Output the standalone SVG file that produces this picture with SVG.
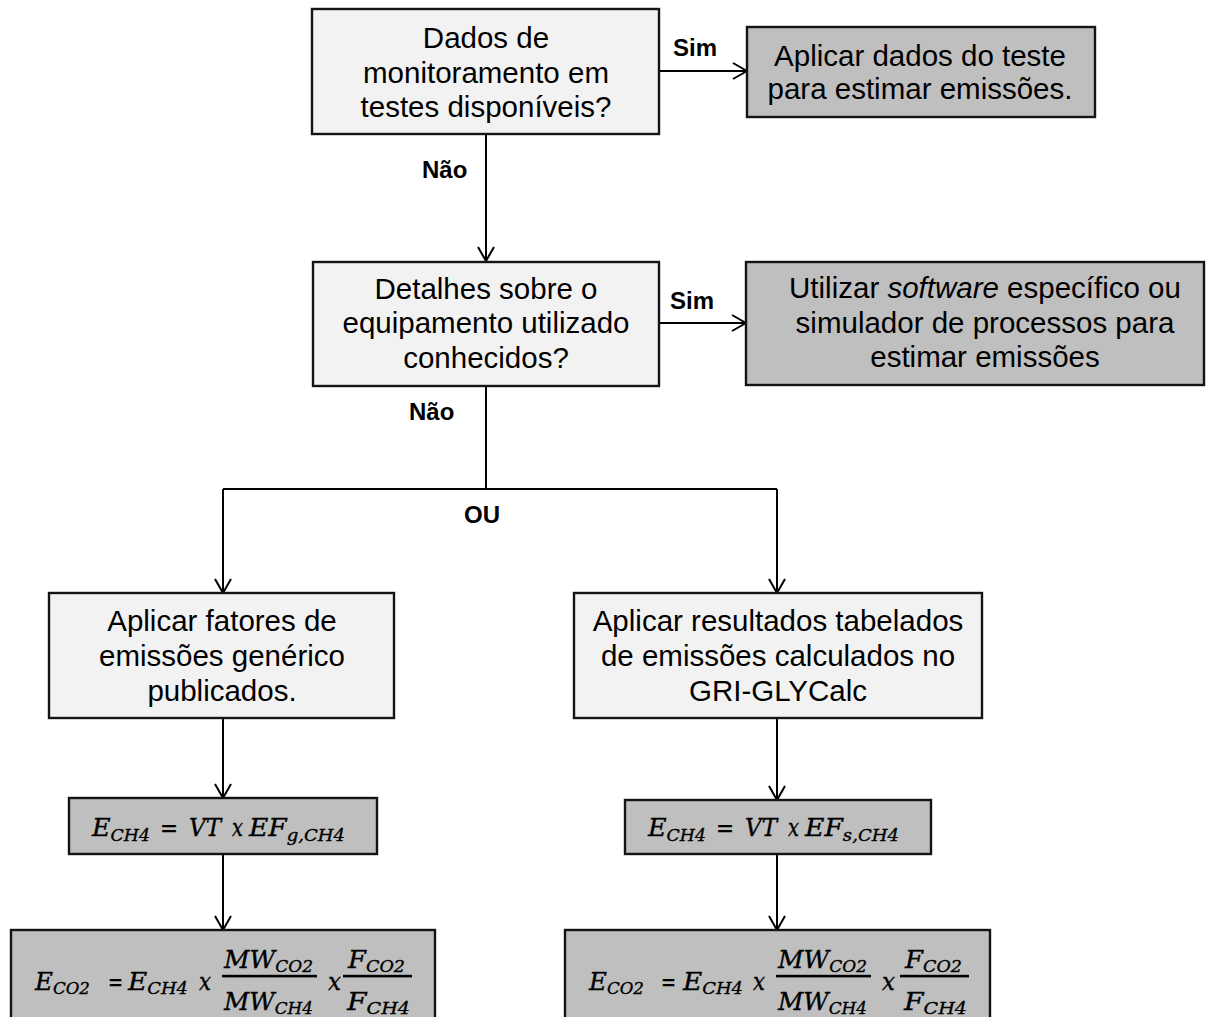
<svg xmlns="http://www.w3.org/2000/svg" width="1206" height="1017" viewBox="0 0 1206 1017">
  <defs>
    <style>
      .box { stroke: #141414; stroke-width: 2.4; }
      .q { fill: #f2f2f2; }
      .a { fill: #bfbfbf; }
      .t { font-family: "Liberation Sans", Arial, sans-serif; font-size: 29.5px; fill: #000; text-anchor: middle; }
      .lbl { font-family: "Liberation Sans", Arial, sans-serif; font-size: 24px; font-weight: bold; fill: #000; }
      .eq { font-family: "DejaVu Serif", "Liberation Serif", serif; font-style: italic; font-size: 25px; fill: #000; stroke: #000; stroke-width: 0.35; }
      .sub { font-size: 17px; }
      .up { font-style: normal; }
      .wire { fill: none; stroke: #000; stroke-width: 2; }
      .bar { fill: #000; stroke: none; }
    </style>
    <marker id="arrow" viewBox="0 0 16 18" refX="15" refY="9" markerWidth="16" markerHeight="18" markerUnits="userSpaceOnUse" orient="auto">
      <path d="M1,1 L15,9 L1,17" fill="none" stroke="#000" stroke-width="2"/>
    </marker>
  </defs>

  <rect width="1206" height="1017" fill="#fff"/>

  <!-- connectors -->
  <g id="connectors">
    <line class="wire" x1="659" y1="71" x2="747" y2="71" marker-end="url(#arrow)"/>
    <line class="wire" x1="486" y1="134" x2="486" y2="261" marker-end="url(#arrow)"/>
    <line class="wire" x1="659" y1="323" x2="746" y2="323" marker-end="url(#arrow)"/>
    <polyline class="wire" points="486,386 486,489"/>
    <polyline class="wire" points="223,489 777,489"/>
    <line class="wire" x1="223" y1="489" x2="223" y2="593" marker-end="url(#arrow)"/>
    <line class="wire" x1="777" y1="489" x2="777" y2="593" marker-end="url(#arrow)"/>
    <line class="wire" x1="223" y1="718" x2="223" y2="798" marker-end="url(#arrow)"/>
    <line class="wire" x1="777" y1="718" x2="777" y2="800" marker-end="url(#arrow)"/>
    <line class="wire" x1="223" y1="854" x2="223" y2="930" marker-end="url(#arrow)"/>
    <line class="wire" x1="777" y1="854" x2="777" y2="930" marker-end="url(#arrow)"/>
    <text class="lbl" x="673" y="56">Sim</text>
    <text class="lbl" x="422" y="178">Não</text>
    <text class="lbl" x="670" y="309">Sim</text>
    <text class="lbl" x="409" y="420">Não</text>
    <text class="lbl" x="464" y="523">OU</text>
  </g>

  <!-- question: monitoring data -->
  <g id="q-monitoramento">
    <rect class="box q" x="312" y="9" width="347" height="125"/>
    <text class="t" x="486" y="48">Dados de</text>
    <text class="t" x="486" y="83">monitoramento em</text>
    <text class="t" x="486" y="117">testes disponíveis?</text>
  </g>

  <g id="a-dados-teste">
    <rect class="box a" x="747" y="27" width="348" height="90"/>
    <text class="t" x="920" y="66">Aplicar dados do teste</text>
    <text class="t" x="920" y="99">para estimar emissões.</text>
  </g>

  <!-- question: equipment details -->
  <g id="q-equipamento">
    <rect class="box q" x="313" y="262" width="346" height="124"/>
    <text class="t" x="486" y="299">Detalhes sobre o</text>
    <text class="t" x="486" y="333">equipamento utilizado</text>
    <text class="t" x="486" y="368">conhecidos?</text>
  </g>

  <g id="a-software">
    <rect class="box a" x="746" y="262" width="458" height="123"/>
    <text class="t" x="985" y="298">Utilizar <tspan font-style="italic">software</tspan> específico ou</text>
    <text class="t" x="985" y="333">simulador de processos para</text>
    <text class="t" x="985" y="367">estimar emissões</text>
  </g>

  <!-- generic factors branch -->
  <g id="a-fatores-genericos">
    <rect class="box q" x="49" y="593" width="345" height="125"/>
    <text class="t" x="222" y="631">Aplicar fatores de</text>
    <text class="t" x="222" y="666">emissões genérico</text>
    <text class="t" x="222" y="701">publicados.</text>
  </g>

  <g id="a-glycalc">
    <rect class="box q" x="574" y="593" width="408" height="125"/>
    <text class="t" x="778" y="631">Aplicar resultados tabelados</text>
    <text class="t" x="778" y="666">de emissões calculados no</text>
    <text class="t" x="778" y="701">GRI-GLYCalc</text>
  </g>

  <!-- E_CH4 = VT x EF_g,CH4 -->
  <g id="eq-ch4-generico">
    <rect class="box a" x="69" y="798" width="308" height="56"/>
    <g class="eq">
      <text x="92" y="836" textLength="58" lengthAdjust="spacingAndGlyphs">E<tspan class="sub" dy="5">CH4</tspan></text>
      <text class="up" x="160" y="836" textLength="18" lengthAdjust="spacingAndGlyphs">=</text>
      <text x="189" y="836" textLength="32" lengthAdjust="spacingAndGlyphs">VT</text>
      <text x="232" y="836" textLength="11" lengthAdjust="spacingAndGlyphs">x</text>
      <text x="249" y="836" textLength="96" lengthAdjust="spacingAndGlyphs">EF<tspan class="sub" dy="5">g,CH4</tspan></text>
    </g>
  </g>

  <!-- E_CH4 = VT x EF_s,CH4 -->
  <g id="eq-ch4-especifico">
    <rect class="box a" x="625" y="800" width="306" height="54"/>
    <g class="eq">
      <text x="648" y="836" textLength="58" lengthAdjust="spacingAndGlyphs">E<tspan class="sub" dy="5">CH4</tspan></text>
      <text class="up" x="716" y="836" textLength="18" lengthAdjust="spacingAndGlyphs">=</text>
      <text x="745" y="836" textLength="32" lengthAdjust="spacingAndGlyphs">VT</text>
      <text x="788" y="836" textLength="11" lengthAdjust="spacingAndGlyphs">x</text>
      <text x="805" y="836" textLength="94" lengthAdjust="spacingAndGlyphs">EF<tspan class="sub" dy="5">s,CH4</tspan></text>
    </g>
  </g>

  <!-- E_CO2 conversion, left branch -->
  <g id="eq-co2-generico">
    <rect class="box a" x="11" y="930" width="424" height="100"/>
    <g class="eq">
      <text x="35" y="990" textLength="55" lengthAdjust="spacingAndGlyphs">E<tspan class="sub" dy="4">CO2</tspan></text>
      <text class="up" x="108" y="990" textLength="15" lengthAdjust="spacingAndGlyphs">=</text>
      <text x="128" y="990" textLength="60" lengthAdjust="spacingAndGlyphs">E<tspan class="sub" dy="4">CH4</tspan></text>
      <text x="199" y="990" textLength="12" lengthAdjust="spacingAndGlyphs">x</text>
      <text x="224" y="968" textLength="89" lengthAdjust="spacingAndGlyphs">MW<tspan class="sub" dy="4">CO2</tspan></text>
      <rect class="bar" x="222" y="974.8" width="95" height="2.6"/>
      <text x="224" y="1010" textLength="89" lengthAdjust="spacingAndGlyphs">MW<tspan class="sub" dy="4">CH4</tspan></text>
      <text x="328" y="990" textLength="13" lengthAdjust="spacingAndGlyphs">x</text>
      <text x="348" y="968" textLength="57" lengthAdjust="spacingAndGlyphs">F<tspan class="sub" dy="4">CO2</tspan></text>
      <rect class="bar" x="343" y="974.8" width="69" height="2.6"/>
      <text x="347" y="1010" textLength="63" lengthAdjust="spacingAndGlyphs">F<tspan class="sub" dy="4">CH4</tspan></text>
    </g>
  </g>

  <!-- E_CO2 conversion, right branch -->
  <g id="eq-co2-especifico">
    <rect class="box a" x="565" y="930" width="425" height="100"/>
    <g class="eq">
      <text x="589" y="990" textLength="55" lengthAdjust="spacingAndGlyphs">E<tspan class="sub" dy="4">CO2</tspan></text>
      <text class="up" x="661" y="990" textLength="15" lengthAdjust="spacingAndGlyphs">=</text>
      <text x="683" y="990" textLength="60" lengthAdjust="spacingAndGlyphs">E<tspan class="sub" dy="4">CH4</tspan></text>
      <text x="753" y="990" textLength="12" lengthAdjust="spacingAndGlyphs">x</text>
      <text x="778" y="968" textLength="89" lengthAdjust="spacingAndGlyphs">MW<tspan class="sub" dy="4">CO2</tspan></text>
      <rect class="bar" x="776" y="974.8" width="95" height="2.6"/>
      <text x="778" y="1010" textLength="89" lengthAdjust="spacingAndGlyphs">MW<tspan class="sub" dy="4">CH4</tspan></text>
      <text x="882" y="990" textLength="13" lengthAdjust="spacingAndGlyphs">x</text>
      <text x="905" y="968" textLength="57" lengthAdjust="spacingAndGlyphs">F<tspan class="sub" dy="4">CO2</tspan></text>
      <rect class="bar" x="900" y="974.8" width="69" height="2.6"/>
      <text x="904" y="1010" textLength="63" lengthAdjust="spacingAndGlyphs">F<tspan class="sub" dy="4">CH4</tspan></text>
    </g>
  </g>
</svg>
